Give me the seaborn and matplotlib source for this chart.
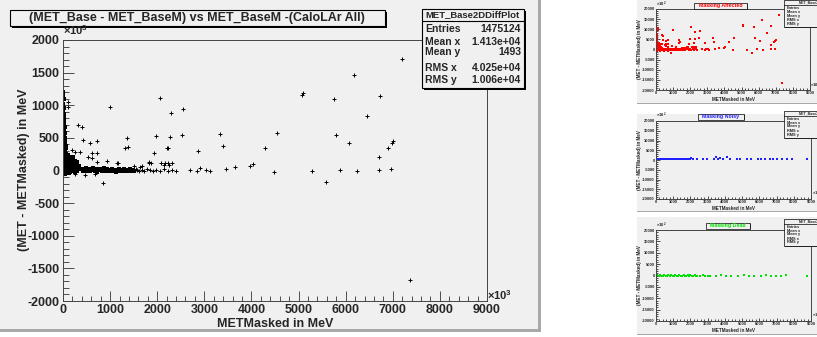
import matplotlib
matplotlib.use('Agg')
from matplotlib import pyplot as plt
from matplotlib.patches import Rectangle
from matplotlib.ticker import MultipleLocator
import pandas as pd
import seaborn as sns

W, H = 817, 337

# MET_Base2DDiffPlot, x = METMasked, y = MET - METMasked (units of 10^3 MeV)
lone_x = [7206, 6177, 5100, 5064, 5751, 6730, 6461, 2064, 1000, 2547,
          2298, 4532, 5787, 6071, 7006, 6979, 6908, 6709, 6709, 6957,
          6248, 5879, 5291, 4489, 3326, 2525, 2277, 1979, 1355, 3397,
          4283, 2213, 1390, 1319, 2866, 1921, 113, 113, 326, 398,
          419, 574, 717, 1815, 1638, 1177, 4035, 3964, 3660, 2915,
          3468, 2688, 2844, 857, 5589, 7369, 255, 362, 610, 717,
          185, 538, 610, 717, 930, 1142, 1517, 1674, 1836, 1872,
          2085, 2155, 2228, 2313, 2140, 2250, 255, 468, 681, 2228,
          3040, 3120]
lone_y = [1704, 1464, 1192, 1157, 1096, 1142, 835, 1106, 978, 938,
          876, 579, 544, 416, 447, 426, 350, 202, 8, 18,
          -8, 8, -3, -18, 555, 544, 518, 529, 493, 375,
          350, 340, 365, 340, 299, 263, 1045, 978, 697, 671,
          467, 426, 457, 120, 58, 110, 100, 69, 58, 34,
          18, 5, -5, -196, -181, -1678, 288, 279, 263, 263,
          314, 211, 187, 135, 150, 110, 74, 69, 126, 110,
          110, 110, 110, 110, 84, 84, -54, -69, -54, 340,
          10, -5]

# dense core close to METMasked = 0
core_x = [10, 5, 20, 8, 15, 4, 25, 10, 18, 5, 30, 12, 22, 6, 35, 14, 4, 26, 10, 40,
          18, 6, 30, 12, 22, 4, 45, 15, 8, 32, 20, 5, 38, 12, 25, 6, 50, 18, 10, 30,
          4, 42, 15, 22, 8, 55, 35, 12, 26, 5, 65, 18, 45, 8, 30, 75, 14, 55, 4, 38,
          90, 22, 10, 65, 30, 110, 48, 6, 85, 20, 130, 60, 35, 100, 12, 150, 75, 45, 120, 25,
          180, 90, 8, 60, 200, 140, 35, 110, 240, 70, 18, 170, 280, 50, 210, 100, 30, 300, 150, 60,
          260, 15, 120, 80, 5, 40, 160, 200, 230, 260, 300, 330, 250, 350, 320, 380,
          180, 220, 140, 100, 70, 50, 260, 300, 160, 190, 130, 230, 190, 90, 120, 80,
          40, 55, 70, 25, 45, 60, 80, 100, 35, 50]
core_y = [1210, 1150, 1090, 1020, 960, 900, 860, 830, 800, 770, 745, 720, 700, 680, 660, 640, 620, 600, 585, 570,
          555, 540, 525, 510, 495, 480, 470, 455, 440, 430, 415, 400, 390, 375, 365, 350, 340, 330, 320, 310,
          300, 292, 284, 276, 268, 260, 252, 244, 236, 228, 220, 212, 205, 198, 190, 184, 178, 172, 166, 160,
          154, 148, 142, 136, 130, 125, 120, 115, 110, 105, 100, 95, 90, 85, 80, 76, 72, 68, 64, 60,
          56, 52, 48, 44, 40, 36, 32, 28, 24, 20, 16, 12, 8, 4, 0, -4, -8, -12, -16, -20,
          -24, -28, -32, -38, -45, -52, 160, 140, 120, 100, 90, 70, 60, 40, 30, 20,
          180, 200, 210, 230, 260, 300, 150, 130, 110, 90, 70, 50, 30, 180, 150, 200,
          420, 380, 340, 560, 500, 250, 230, 170, 200, 130]

# horizontal band at small MET difference (dense part)
band_x = [400, 430, 460, 490, 520, 550, 580, 610, 640, 670, 700, 730, 760, 790, 820, 850, 880, 910,
          940, 970, 1000, 1030, 1060, 1090, 1120, 1150, 1180, 1210, 1240, 1270, 1300, 1330, 1360,
          1390, 1420, 1450, 1480, 1510]
band_y = [30, -10, 15, 40, 0, 22, -15, 10, 35, -5, 18, -20, 5, 28, -8, 12, 40, 0,
          20, -12, 8, 30, -5, 15, -18, 5, 25, 0, 12, -10, 20, 3, -8,
          15, 30, 0, 10, -12]

# sparse tail of the band
tail_x = [1540, 1570, 1620, 1680, 1720, 1780, 1850, 1920, 1980, 2060, 2150, 2230, 2320, 2400]
tail_y = [20, 5, -5, 15, 0, 25, 5, -10, 10, 0, 20, -5, 8, -12]

# masking noisy cells (blue panel, y in 10^2 MeV)
noisy_x = [5, 12, 6, 15, 8, 4, 10, 6, 14, 5, 9, 18, 7, 4, 11, 20, 6, 13,
           40, 120, 200, 280, 360, 440, 520, 600, 680, 760, 840, 920, 1000, 1080, 1160, 1240,
           1320, 1400, 1480, 1560, 1640, 1720, 1800, 1880, 1960, 2050, 2150, 2400, 2700, 2950,
           3350, 3500, 3600, 3700, 3900, 4100, 4300, 4700, 4900, 5300, 5500, 5900, 6100,
           6300, 6600, 6800, 7000, 7300, 7600, 7900, 8780]
noisy_y = [10200, 9600, 9000, 8400, 7800, 7200, 6600, 6000, 5400, 4800, 4200, 3600, 3000, 2400, 1800, 1200, 700, 300,
           600, 400, 700, 500, 300, 600, 400, 500, 700, 300, 500, 400, 600, 500, 300, 700,
           400, 500, 600, 300, 500, 700, 400, 600, 500, 800, 400, 600, 300, 700,
           500, 1500, 400, 1200, 600, 1400, 500, 300, 600, 400, 500, 300, 600,
           400, 500, 300, 600, 400, 500, 300, 500]

# masking dead cells (green panel)
dead_x = [0, 80, 160, 240, 320, 400, 480, 560, 640, 720, 800, 880, 960, 1040, 1120, 1200,
          1280, 1360, 1440, 1520, 1600, 1680, 1760, 1840, 1920, 2000, 2080, 2160, 2240, 2320,
          2400, 2550, 2700, 2850, 3000, 3150, 3466, 3758, 4050, 4342, 4733, 5122, 5414, 5706,
          6096, 6388, 6680, 6972, 7264, 7556, 8785]
dead_y = [0, 20, -20, 10, 0, -10, 20, 0, -20, 10, 0, 20, -10, 0, 10, -20,
          0, 20, -10, 0, 10, 0, -20, 10, 0, 20, -10, 0, 10, 0,
          -10, 0, 20, 0, -10, 0, 0, 10, 0, -10, 0, 10, 0, -10,
          0, 10, 0, -10, 0, 10, 0]

stat_labels = ["Entries", "Mean x", "Mean y", "RMS x", "RMS y"]
main_stats = ["1475124", "1.413e+04", "1493", "4.025e+04", "1.006e+04"]
affected_stats = ["1475124", "1.413e+04", "1493", "4.025e+04", "1.006e+04"]
noisy_stats = ["1475124", "1.474e+04", "837.6", "4.218e+04", "752.9"]
dead_stats = ["1475010", "1.386e+04", "-0.6734", "4.277e+04", "53.19"]

main_title = "(MET_Base - MET_BaseM) vs MET_BaseM -(CaloLAr All)"
hist_name = "MET_Base2DDiffPlot"
x_title = "METMasked in MeV"
y_title = "(MET - METMasked) in MeV"

sns.set_theme(style="ticks")
plt.rcParams['font.family'] = ['Liberation Sans', 'DejaVu Sans']
plt.rcParams['font.weight'] = 'bold'
plt.rcParams['axes.unicode_minus'] = False
plt.rcParams['mathtext.fontset'] = 'custom'
plt.rcParams['mathtext.rm'] = 'Liberation Sans'

CANVAS = "#f0f0f0"
EDGE = "#a8a8a8"

fig = plt.figure(figsize=(W / 100, H / 100), dpi=100)
fig.patch.set_facecolor("white")


def px_rect(x0, y0, x1, y1, z=-5, **kw):
    r = Rectangle((x0 / W, 1 - y1 / H), (x1 - x0) / W, (y1 - y0) / H,
                  transform=fig.transFigure, zorder=z, **kw)
    fig.add_artist(r)


def px_text(x, y, s, z=10, **kw):
    fig.text(x / W, 1 - y / H, s, zorder=z, **kw)


def canvas(x0, y0, x1, y1, bw):
    px_rect(x0, y0, x1, y1, facecolor=CANVAS, edgecolor="none")
    px_rect(x1 - bw, y0, x1, y1, facecolor=EDGE, edgecolor="none")
    px_rect(x0, y1 - bw, x1, y1, facecolor=EDGE, edgecolor="none")


def box(x0, y0, x1, y1, lw, shadow):
    px_rect(x0 + shadow, y0 + shadow, x1 + shadow, y1 + shadow, z=6, facecolor="black", edgecolor="none")
    px_rect(x0, y0, x1, y1, z=7, facecolor=CANVAS, edgecolor="black", linewidth=lw)


def make_axes(x0, y0, x1, y1, ymax, ymajor, yminor, fs, lens, pad):
    ax = fig.add_axes([x0 / W, 1 - y1 / H, (x1 - x0) / W, (y1 - y0) / H])
    ax.set_facecolor("none")
    ax.set_xlim(0, 9000)
    ax.set_ylim(-ymax, ymax)
    ax.xaxis.set_major_locator(MultipleLocator(1000))
    ax.xaxis.set_minor_locator(MultipleLocator(200))
    ax.yaxis.set_major_locator(MultipleLocator(ymajor))
    ax.yaxis.set_minor_locator(MultipleLocator(yminor))
    ax.tick_params(axis="x", which="major", direction="in", length=lens[0], width=0.6,
                   labelsize=fs, pad=pad, color="#333333")
    ax.tick_params(axis="x", which="minor", direction="in", length=lens[1], width=0.6, color="#333333")
    ax.tick_params(axis="y", which="major", direction="in", length=lens[2], width=0.6,
                   labelsize=fs, pad=pad, color="#333333")
    ax.tick_params(axis="y", which="minor", direction="in", length=lens[3], width=0.6, color="#333333")
    for sp in ax.spines.values():
        sp.set_visible(True)
        sp.set_linewidth(0.7)
        sp.set_color("#444444")
    return ax


def stats(x0, y0, x1, y1, rows_y, head_y, line_y, fs_head, fs, values, lw, shadow):
    box(x0, y0, x1, y1, lw, shadow)
    px_text((x0 + x1) / 2, head_y, hist_name, ha="center", va="center", fontsize=fs_head)
    fig.add_artist(plt.Line2D([x0 / W, x1 / W], [1 - line_y / H, 1 - line_y / H],
                              transform=fig.transFigure, color="black", linewidth=lw, zorder=8))
    for lab, val, yy in zip(stat_labels, values, rows_y):
        px_text(x0 + 3, yy, lab, ha="left", va="center", fontsize=fs)
        px_text(x1 - 3, yy, val, ha="right", va="center", fontsize=fs)


# ---------------- main canvas ----------------
canvas(0, 0, 541, 332, 3)
ax = make_axes(63, 40, 487, 301, 2000, 500, 100, 9, (7, 3.5, 8, 4), 2.5)
lone_df = pd.DataFrame({"x": lone_x + tail_x, "y": lone_y + tail_y})
dense_df = pd.DataFrame({"x": core_x + band_x, "y": core_y + band_y})
sns.scatterplot(data=dense_df, x="x", y="y", ax=ax, marker="s", s=9, color="black",
                linewidth=0, legend=False)
sns.scatterplot(data=lone_df, x="x", y="y", ax=ax, marker="+", s=6, color="black",
                linewidth=0.7, legend=False)
ax.set_xlabel("")
ax.set_ylabel("")

box(10, 10, 385, 26, 0.8, 2)
px_text(197, 18.5, main_title, ha="center", va="center", fontsize=9)
px_text(63, 37, r"$\times10^{3}$", ha="left", va="bottom", fontsize=8, fontweight="normal")
px_text(487, 302, r"$\times10^{3}$", ha="left", va="bottom", fontsize=8, fontweight="normal")
px_text(275, 324, x_title, ha="center", va="center", fontsize=9)
px_text(24, 170, y_title, ha="center", va="center", rotation=90, fontsize=9)
stats(422, 9, 524, 88, [29, 42, 52, 68, 80], 15, 21, 6.8, 7.5, main_stats, 0.8, 1.5)

# ---------------- small canvases ----------------
panels = [
    ("Masking Affected", "#ff0000", lone_x + core_x + band_x + tail_x,
     [v * 10 for v in lone_y + core_y + band_y + tail_y], affected_stats,
     (637, 0, 830, 104), (656, 9, 810, 90), (694, 3, 747, 8.5), 99.5, 0),
    ("Masking Noisy", "#2020ff", noisy_x, noisy_y, noisy_stats,
     (637, 114, 830, 212), (656, 121, 811, 199), (698, 114, 744, 119.5), 208.5, 111),
    ("Masking Dead", "#00e000", dead_x, dead_y, dead_stats,
     (637, 217, 830, 335), (656, 230, 811, 321), (706, 223, 750, 228.5), 330.5, 219),
]

for name, col, xs, ys, st, cv, ar, tb, xl_y, sy in panels:
    canvas(cv[0], cv[1], cv[2], cv[3], 1.5)
    sax = make_axes(ar[0], ar[1], ar[2], ar[3], 20000, 5000, 1000, 2.9, (2.5, 1.2, 3, 1.5), 0.8)
    df = pd.DataFrame({"x": xs, "y": ys})
    sns.scatterplot(data=df, x="x", y="y", ax=sax, marker="s", s=1.0, color=col,
                    linewidth=0, legend=False)
    sax.set_xlabel("")
    sax.set_ylabel("")
    box(tb[0], tb[1], tb[2], tb[3], 0.5, 0.8)
    px_text((tb[0] + tb[2]) / 2, (tb[1] + tb[3]) / 2, name, ha="center", va="center",
            fontsize=3.8, color=col)
    px_text(ar[0], ar[1] - 0.5, r"$\times10^{2}$", ha="left", va="bottom", fontsize=3.0,
            fontweight="normal")
    px_text(ar[2] + 0.5, ar[3] - 0.5, r"$\times10^{3}$", ha="left", va="bottom", fontsize=3.0,
            fontweight="normal")
    px_text((ar[0] + ar[2]) / 2, xl_y, x_title, ha="center", va="center", fontsize=3.3)
    px_text(639.5, (ar[1] + ar[3]) / 2, y_title, ha="center", va="center", rotation=90, fontsize=3.3)
    stats(784, sy, 850, sy + 27, [sy + 8, sy + 12, sy + 15.5, sy + 20, sy + 23.5],
          sy + 2.3, sy + 4.5, 2.6, 2.8, st, 0.5, 0.8)

fig.savefig("out.png", dpi=100)
